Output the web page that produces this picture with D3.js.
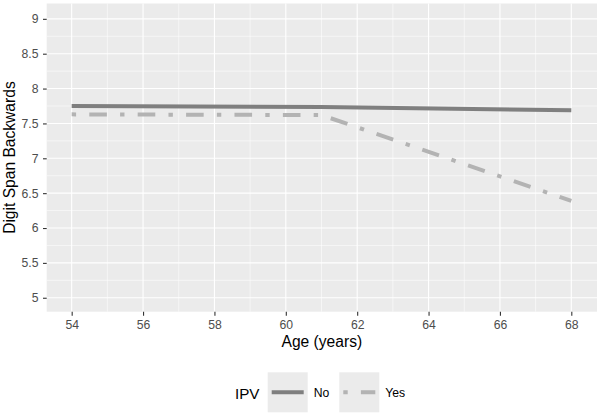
<!DOCTYPE html>
<html>
<head>
<meta charset="utf-8">
<script src="https://cdn.jsdelivr.net/npm/d3@7"></script>
<style>
  body { margin: 0; background: #fff; }
  svg { display: block; font-family: "Liberation Sans", Arial, sans-serif; }
</style>
</head>
<body>
<div id="chart"></div>
<script>
// data
const ages = [54, 61, 68];
const spanNo = [7.75, 7.735, 7.69];
const spanYes = [7.63, 7.62, 6.39];
const groups = ["No", "Yes"];
const xTicks = [54, 56, 58, 60, 62, 64, 66, 68];
const yTicks = [5, 5.5, 6, 6.5, 7, 7.5, 8, 8.5, 9];

const width = 600, height = 416;
const panel = {left: 46.7, right: 597, top: 3.5, bottom: 311.7};
const colors = {No: "#7f7f7f", Yes: "#b3b3b3"};
const dashes = {No: null, Yes: "4.4,13.2,17.6,13.2"};

const x = d3.scaleLinear().domain([53.3, 68.72]).range([panel.left, panel.right]);
const y = d3.scaleLinear().domain([4.8, 9.22]).range([panel.bottom, panel.top]);

const svg = d3.select("#chart").append("svg")
    .attr("width", width)
    .attr("height", height);

// panel background
svg.append("rect")
    .attr("x", panel.left).attr("y", panel.top)
    .attr("width", panel.right - panel.left)
    .attr("height", panel.bottom - panel.top)
    .attr("fill", "#ebebeb");

// minor grid
const xMinor = d3.range(55, 68, 2);
const yMinor = d3.range(5.25, 9, 0.5);
let grid = svg.append("g").attr("stroke", "#fff");
grid.selectAll(".xmin").data(xMinor).enter().append("line")
    .attr("x1", d => x(d)).attr("x2", d => x(d))
    .attr("y1", panel.top).attr("y2", panel.bottom)
    .attr("stroke-width", 0.55);
grid.selectAll(".ymin").data(yMinor).enter().append("line")
    .attr("y1", d => y(d)).attr("y2", d => y(d))
    .attr("x1", panel.left).attr("x2", panel.right)
    .attr("stroke-width", 0.55);
// major grid
grid.selectAll(".xmaj").data(xTicks).enter().append("line")
    .attr("x1", d => x(d)).attr("x2", d => x(d))
    .attr("y1", panel.top).attr("y2", panel.bottom)
    .attr("stroke-width", 1.1);
grid.selectAll(".ymaj").data(yTicks).enter().append("line")
    .attr("y1", d => y(d)).attr("y2", d => y(d))
    .attr("x1", panel.left).attr("x2", panel.right)
    .attr("stroke-width", 1.1);

// axes
let xAxis = g => g
    .attr("transform", `translate(0,${panel.bottom})`)
    .call(d3.axisBottom(x).tickValues(xTicks).tickSize(4).tickPadding(4.5).tickFormat(d3.format("d")))
    .call(g => g.select(".domain").remove())
    .call(g => g.selectAll(".tick line").attr("stroke", "#333").attr("stroke-width", 1.1))
    .call(g => g.selectAll(".tick text").attr("fill", "#4d4d4d").style("font-size", "12.2px"));

let yAxis = g => g
    .attr("transform", `translate(${panel.left},0)`)
    .call(d3.axisLeft(y).tickValues(yTicks).tickSize(3.7).tickPadding(4.5).tickFormat(d => d))
    .call(g => g.select(".domain").remove())
    .call(g => g.selectAll(".tick line").attr("stroke", "#333").attr("stroke-width", 1.1))
    .call(g => g.selectAll(".tick text").attr("fill", "#4d4d4d").style("font-size", "12.2px"));

svg.append("g").call(xAxis);
svg.append("g").call(yAxis);

svg.append("text")
    .attr("x", (panel.left + panel.right) / 2)
    .attr("y", 346.7)
    .attr("text-anchor", "middle")
    .style("font-size", "15.6px")
    .attr("fill", "#000")
    .text("Age (years)");

svg.append("text")
    .attr("transform", `translate(15,${(panel.top + panel.bottom) / 2}) rotate(-90)`)
    .attr("text-anchor", "middle")
    .style("font-size", "15.6px")
    .attr("fill", "#000")
    .text("Digit Span Backwards");

// lines
const line = d3.line().x(d => x(d[0])).y(d => y(d[1]));
const series = {
  No: ages.map((a, i) => [a, spanNo[i]]),
  Yes: ages.map((a, i) => [a, spanYes[i]])
};
groups.forEach(gname => {
  svg.append("path")
      .datum(series[gname])
      .attr("d", line)
      .attr("fill", "none")
      .attr("stroke", colors[gname])
      .attr("stroke-width", 4)
      .attr("stroke-dasharray", dashes[gname]);
});

// legend
const legend = svg.append("g");
legend.append("text")
    .attr("x", 235).attr("y", 398.5)
    .style("font-size", "15.2px")
    .text("IPV");
const keyX = [267.7, 339.3];
groups.forEach((gname, i) => {
  let k = legend.append("g").attr("transform", `translate(${keyX[i]},372.3)`);
  k.append("rect").attr("width", 40).attr("height", 40).attr("fill", "#ebebeb");
  k.append("line")
      .attr("x1", 4).attr("x2", 36).attr("y1", 20).attr("y2", 20)
      .attr("stroke", colors[gname])
      .attr("stroke-width", 4)
      .attr("stroke-dasharray", dashes[gname]);
  legend.append("text")
      .attr("x", keyX[i] + 46).attr("y", 396.8)
      .style("font-size", "12.2px")
      .attr("fill", "#000")
      .text(gname);
});
</script>
</body>
</html>
